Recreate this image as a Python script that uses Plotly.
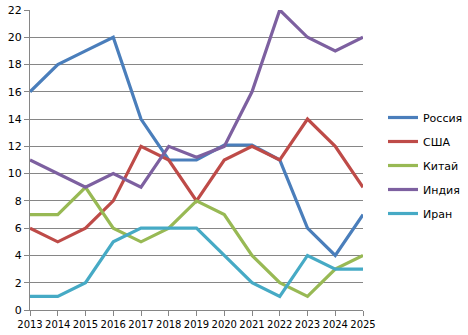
import plotly.graph_objects as go

years = list(range(2013, 2026))
russia = [16, 18, 19, 20, 14, 11, 11, 12.1, 12.1, 11, 6, 4, 7]
usa = [6, 5, 6, 8, 12, 11, 8, 11, 12, 11, 14, 12, 9]
china = [7, 7, 9, 6, 5, 6, 8, 7, 4, 2, 1, 3, 4]
india = [11, 10, 9, 10, 9, 12, 11.2, 12, 16, 22, 20, 19, 20]
iran = [1, 1, 2, 5, 6, 6, 6, 4, 2, 1, 4, 3, 3]

series = [
    ("Россия", russia, "#4a7ebb"),
    ("США", usa, "#be4b48"),
    ("Китай", china, "#98b954"),
    ("Индия", india, "#7d60a0"),
    ("Иран", iran, "#46aac5"),
]

fig = go.Figure()
for i, (name, vals, color) in enumerate(series):
    fig.add_trace(go.Scatter(
        x=years, y=vals, name=name, mode="lines",
        line=dict(color=color, width=3.2),
        legendgroup=f"g{i}",
    ))

fig.update_layout(
    width=468, height=335,
    margin=dict(l=30, r=105, t=10, b=25, autoexpand=False),
    paper_bgcolor="white", plot_bgcolor="white",
    font=dict(family="DejaVu Sans", size=11, color="black"),
    legend=dict(
        x=1.06, xanchor="left", y=0.69, yanchor="top",
        traceorder="grouped", tracegroupgap=5,
        font=dict(family="DejaVu Sans", size=11),
        bgcolor="rgba(0,0,0,0)",
    ),
    xaxis=dict(
        range=[2013, 2025], tickmode="array", tickvals=years,
        ticktext=[str(y) for y in years], tickangle=0, automargin=False,
        showgrid=False, showline=True, linecolor="#868686", linewidth=1,
        ticks="outside", ticklen=5, tickcolor="#868686",
        tickfont=dict(size=10), zeroline=False,
    ),
    yaxis=dict(
        range=[0, 22], dtick=2, tick0=0, automargin=False,
        showgrid=True, gridcolor="#868686", gridwidth=1,
        showline=True, linecolor="#868686", linewidth=1,
        ticks="outside", ticklen=5, tickcolor="#868686",
        tickfont=dict(size=11), zeroline=False,
    ),
)

fig.write_html("out.html")
